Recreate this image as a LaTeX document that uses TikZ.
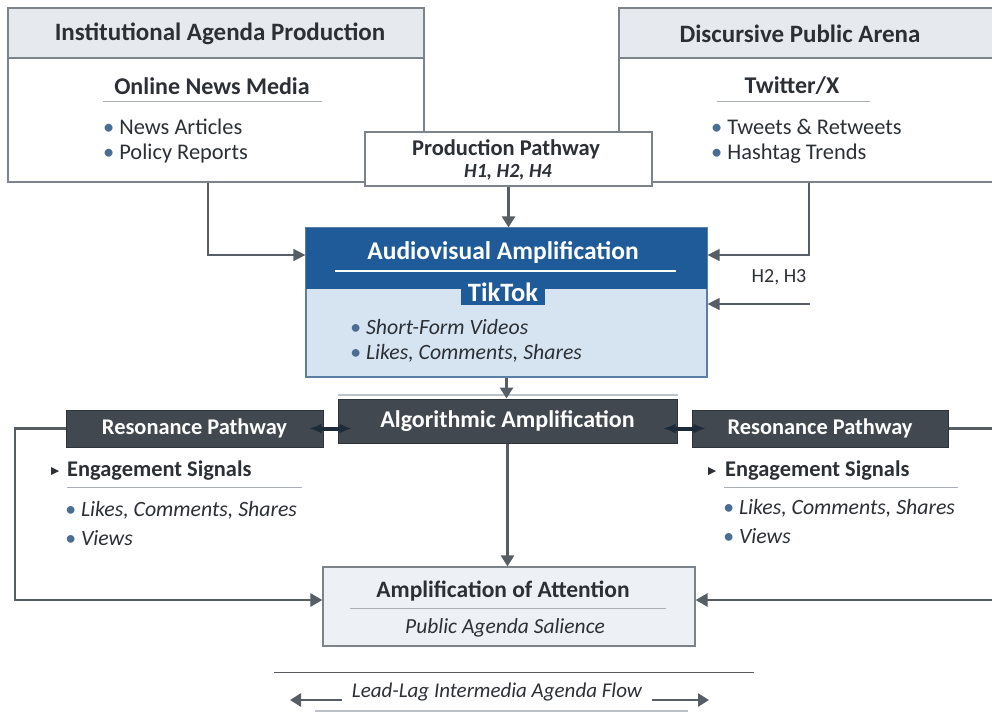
\documentclass[tikz,border=0pt]{standalone}
\usepackage{fontspec}
\setmainfont{Carlito}
\usetikzlibrary{arrows.meta}

\definecolor{ink}{HTML}{2C3035}
\definecolor{edge}{HTML}{7D838A}
\definecolor{headfill}{HTML}{E6EAEE}
\definecolor{arrowgray}{HTML}{565D65}
\definecolor{tikblue}{HTML}{1F5B98}
\definecolor{tiklight}{HTML}{D6E4F2}
\definecolor{tikedge}{HTML}{5C7FA5}
\definecolor{darkbox}{HTML}{41484F}
\definecolor{darkedge}{HTML}{2E3439}
\definecolor{navy}{HTML}{1D2A37}
\definecolor{attfill}{HTML}{EDF1F5}
\definecolor{dotblue}{HTML}{4A6E93}
\definecolor{rulegray}{HTML}{A9AFB5}
\definecolor{lightline}{HTML}{BCC2C8}

\newcommand\bul{{\color{dotblue}\textbullet}\hspace{5pt}}
\newcommand\fs[1]{\fontsize{#1}{#1}\selectfont}

\tikzset{
  panel/.style={draw=edge, line width=1.2pt, fill=white, inner sep=0pt},
  band/.style={draw=edge, line width=1.2pt, fill=headfill, inner sep=0pt},
  headtext/.style={font=\fs{25}\bfseries, text=ink, inner sep=0pt},
  subtext/.style={font=\fs{24}\bfseries, text=ink, inner sep=0pt},
  item/.style={font=\fs{22.4}, text=ink, anchor=west, inner sep=0pt},
  itemit/.style={font=\fs{21.8}\itshape, text=ink, anchor=west, inner sep=0pt},
  rule/.style={draw=rulegray, line width=1pt},
  darkbox/.style={draw=darkedge, line width=1pt, fill=darkbox, text=white,
    font=\fs{22.4}\bfseries, inner sep=0pt},
  flow/.style={draw=arrowgray, line width=2.6pt,
    -{Triangle[length=11pt,width=13pt]}},
  thinflow/.style={draw=arrowgray, line width=1.5pt,
    -{Triangle[length=12pt,width=12pt]}},
  backflow/.style={draw=arrowgray, line width=2.6pt,
    -{Triangle[length=12pt,width=13pt]}},
  link/.style={draw=navy, line width=4pt,
    {Latex[length=12pt,width=10pt]}-{Latex[length=12pt,width=10pt]}},
}

\begin{document}
\begin{tikzpicture}[x=1pt,y=-1pt]
\useasboundingbox[fill=white] (0,0) rectangle (992,713);

% ---- institutional sources (top left)
\node[panel, minimum width=416pt, minimum height=174pt] (inst) at (216,95) {};
\node[band, minimum width=416pt, minimum height=50pt, anchor=north] (insthead) at (inst.north) {};
\node[headtext] (insttitle) at (220,34) {Institutional Agenda Production};
\node[subtext] (news) at (212,86) {Online News Media};
\draw[rule] (103,101) -- (322,101);
\node[item] (articles) at (103,127) {\bul News Articles};
\node[item] (reports) at (103,154) {\bul Policy Reports};

% ---- discursive arena (top right)
\node[panel, minimum width=392pt, minimum height=174pt] (disc) at (815,95) {};
\node[band, minimum width=392pt, minimum height=50pt, anchor=north] (dischead) at (disc.north) {};
\node[headtext] (disctitle) at (800,34) {Discursive Public Arena};
\node[subtext] (twitter) at (792,86) {Twitter/X};
\draw[rule] (717,101) -- (870,101);
\node[item] (tweets) at (711,127) {\bul Tweets \& Retweets};
\node[item] (hashtags) at (711,154) {\bul Hashtag Trends};

% ---- production pathway label box
\node[panel, minimum width=287pt, minimum height=54pt] (prod) at (508.5,159) {};
\node[font=\fs{22.5}\bfseries, text=ink, inner sep=0pt] (prodtitle) at (506,149) {Production Pathway};
\node[font=\fs{20}\bfseries\itshape, text=ink, inner sep=0pt] (prodhyp) at (508,172) {H1, H2, H4};

% ---- TikTok block
\node[draw=tikedge, line width=1.2pt, fill=tiklight, minimum width=401pt, minimum height=149pt, inner sep=0pt] (tik) at (506.5,302.5) {};
\node[fill=tikblue, minimum width=401pt, minimum height=61pt, anchor=north, inner sep=0pt] (tikhead) at (tik.north) {};
\node[font=\fs{25.5}\bfseries, text=white, inner sep=0pt] (tiktitle) at (503,253) {Audiovisual Amplification};
\draw[white, line width=1.2pt] (335,271) -- (676,271);
\node[fill=tikblue, text=white, font=\fs{26.5}\bfseries, inner xsep=7pt, inner ysep=0pt, minimum height=26pt] (tiktok) at (503,292) {TikTok};
\node[itemit] (videos) at (350,327) {\bul Short-Form Videos};
\node[itemit] (tikeng) at (350,353) {\bul Likes, Comments, Shares};

% ---- algorithmic amplification and resonance pathways
\draw[draw=lightline, line width=1.6pt] (338,395) -- (678,395);
\node[darkbox, minimum width=339pt, minimum height=44pt, font=\fs{24}\bfseries] (alg) at (507.5,421) {Algorithmic Amplification};
\node[darkbox, minimum width=257pt, minimum height=37pt] (resL) at (194.5,428.5) {Resonance Pathway};
\node[darkbox, minimum width=256pt, minimum height=37pt] (resR) at (820,428.5) {Resonance Pathway};

% engagement signals, left
\fill[ink] (51,467) -- (59,471) -- (51,475) -- cycle;
\node[font=\fs{22.4}\bfseries, text=ink, anchor=west, inner sep=0pt] (engL) at (67,471) {Engagement Signals};
\draw[rule] (67,487) -- (302,487);
\node[itemit] (likesL) at (65,510) {\bul Likes, Comments, Shares};
\node[itemit] (viewsL) at (65,538) {\bul Views};

% engagement signals, right
\fill[ink] (708,467) -- (716,471) -- (708,475) -- cycle;
\node[font=\fs{22.4}\bfseries, text=ink, anchor=west, inner sep=0pt] (engR) at (725,471) {Engagement Signals};
\draw[rule] (724,487) -- (958,487);
\node[itemit] (likesR) at (723,508) {\bul Likes, Comments, Shares};
\node[itemit] (viewsR) at (723,536) {\bul Views};

% ---- outcome
\node[draw=edge, line width=1.2pt, fill=attfill, minimum width=372pt, minimum height=79pt, inner sep=0pt] (att) at (509,606.5) {};
\node[font=\fs{23.5}\bfseries, text=ink, inner sep=0pt] (atttitle) at (503,591) {Amplification of Attention};
\draw[rule] (350,608) -- (666,608);
\node[font=\fs{21.5}\itshape, text=ink, inner sep=0pt] (attsub) at (505,628) {Public Agenda Salience};

% ---- connectors
\coordinate (lx) at (208,0);
\coordinate (rx) at (809,0);
\coordinate (ly) at (0,255);
\coordinate (h3in) at (810,304);
\coordinate (lcorner) at (15,600);
\coordinate (rcorner) at (1010,600);

\draw[thinflow] (inst.south -| lx) |- (tik.west |- ly);
\draw[thinflow] (disc.south -| rx) |- (tik.east |- ly);
\node[font=\fs{20}, text=ink, inner sep=0pt] (h23) at (779,277) {H2, H3};
\draw[thinflow] (h3in) -- (tik.east |- h3in);
\draw[flow] (prod.south) -- (prod.south |- tik.north);
\draw[flow] (tik.south) -- (tik.south |- alg.north);
\draw[flow] (alg.south) -- (alg.south |- att.north);
\draw[link, shorten <=-14pt, shorten >=-14pt] (resL.east) -- (alg.west |- resL.east);
\draw[link, shorten <=-14pt, shorten >=-14pt] (resR.west) -- (alg.east |- resR.west);
\draw[backflow] (resL.west) -| (lcorner) -- (att.west |- lcorner);
\draw[backflow] (resR.east) -| (rcorner) -- (att.east |- rcorner);

% ---- lead-lag footer
\draw[draw=ink!80, line width=1pt] (274,672) -- (754,672);
\node[font=\fs{21}\itshape, text=ink, inner sep=0pt] (leadlag) at (497,692) {Lead-Lag Intermedia Agenda Flow};
\coordinate (llend) at (290,700);
\coordinate (rrend) at (709,700);
\draw[flow, line width=2.6pt] ([xshift=-10pt]leadlag.west |- llend) -- (llend);
\draw[flow, line width=2.6pt] ([xshift=10pt]leadlag.east |- rrend) -- (rrend);
\draw[draw=lightline, line width=2pt] (315,711) -- (688,711);
\end{tikzpicture}
\end{document}
